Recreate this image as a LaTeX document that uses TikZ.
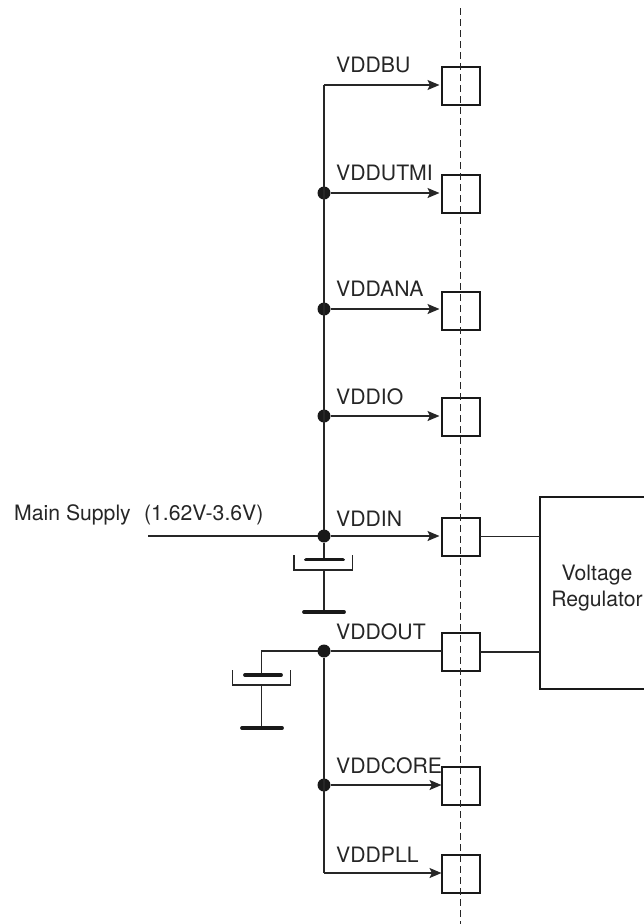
\documentclass[tikz,border=0pt]{standalone}
\usepackage{fontspec}
\setmainfont{TeX Gyre Heros}
\usetikzlibrary{positioning}
\usetikzlibrary{arrows.meta}
\tikzset{
  pin/.style={draw=black!90, line width=2pt, minimum size=38pt, inner sep=0pt, outer sep=0pt},
  dot/.style={fill=black!90, circle, minimum size=13pt, inner sep=0pt, outer sep=0pt},
  lab/.style={anchor=base west, inner sep=0pt, font=\fontsize{21.2}{26}\selectfont, text=black!85},
  wire/.style={draw=black!85, line width=1.5pt},
  feed/.style={wire, -{Stealth[length=12pt, width=10pt, inset=2.5pt]}, shorten >=2pt},
  plate/.style={draw=black!90, line width=3.8pt, line cap=round},
  cup/.style={draw=black!85, line width=1.7pt}
}
\begin{document}
\begin{tikzpicture}[x=1pt, y=-1pt]
    \useasboundingbox (0,0) rectangle (644,924);
    \node[pin](BU) at (460.5,86){};
    \node[pin](UTMI) [below = 69.5pt of BU]{};
    \node[pin](ANA) [below = 79.5pt of UTMI]{};
    \node[pin](IO) [below = 68pt of ANA]{};
    \node[pin](IN) [below = 81.5pt of IO]{};
    \node[pin](OUT) [below = 77.5pt of IN]{};
    \node[pin](CORE) [below = 96pt of OUT]{};
    \node[pin](PLL) [below = 50pt of CORE]{};
    \node[draw=black!90, line width=2pt, minimum width=105pt, minimum height=192pt, outer sep=0pt] (VR) at (592.5,593){};
    \node[font=\fontsize{21.2}{26}\selectfont, text=black!85, align=center] (VRtext) at (597,588) {Voltage\\Regulator};

    \coordinate (top) at (324,85);
    \coordinate (bot) at (324,873);
    \coordinate (dashtop) at (460.5,8);
    \coordinate (dashbot) at (460.5,924);
    \coordinate (main) at (148,536);
    \node[dot](dUTMI) at (324,193){};
    \node[dot](dANA) at (324,309){};
    \node[dot](dIO) at (324,416){};
    \node[dot](dIN) at (324,536){};
    \node[dot](dOUT) at (324,651){};
    \node[dot](dCORE) at (324,785){};

    \node[lab](tBU) at (336,72){VDDBU};
    \node[lab](tUTMI) at (336,180){VDDUTMI};
    \node[lab](tANA) at (336,296){VDDANA};
    \node[lab](tIO) at (336,404){VDDIO};
    \node[lab](tIN) at (336,526.5){VDDIN};
    \node[lab](tOUT) at (336,639){VDDOUT};
    \node[lab](tCORE) at (336,773){VDDCORE};
    \node[lab](tPLL) at (336,862){VDDPLL};
    \node[lab](tmain) at (14,520.5){Main Supply\hspace{0.35em} (1.62V-3.6V)};

    \draw[black!85, line width=1.2pt, dash pattern=on 6.5pt off 4.5pt] (dashtop) -- (dashbot);

    \draw[wire] (top) -- (dIN);
    \draw[wire] (dOUT) -- (bot);
    \draw[feed] (top) -- (BU.west |- top);
    \draw[feed] (dUTMI) -- (UTMI.west |- dUTMI);
    \draw[feed] (dANA) -- (ANA.west |- dANA);
    \draw[feed] (dIO) -- (IO.west |- dIO);
    \draw[feed] (dIN) -- (IN.west |- dIN);
    \draw[feed, shorten >=0pt] (dCORE) -- (CORE.west |- dCORE);
    \draw[feed, shorten >=0pt] (bot) -- (PLL.west |- bot);
    \draw[wire] (main) -- (dIN);
    \draw[wire] (dOUT) -- (OUT.west |- dOUT);
    \draw[wire] (IN.east) -- (IN.east -| VR.west);
    \draw[wire] (OUT.east) -- (OUT.east -| VR.west);

    % first capacitor
    \coordinate (plateA) at (324,559.5);
    \coordinate (gndA) at (324,612);
    \draw[wire, line width=1.9pt] (dIN) -- (plateA);
    \draw[plate] (306,559.5) -- (343,559.5);
    \draw[cup] (294,555) -- (294,570) -- (352.5,570) -- (352.5,555);
    \draw[wire, line width=1.9pt] (plateA) ++(0,10) -- (gndA);
    \draw[plate] (304,612) -- (344,612);

    % second capacitor
    \coordinate (plateB) at (261.5,675);
    \coordinate (gndB) at (261.5,728);
    \draw[wire] (dOUT) -- (261.5,651) -- (plateB);
    \draw[plate] (245,675) -- (281,675);
    \draw[cup] (232.5,670) -- (232.5,685) -- (290.5,685) -- (290.5,670);
    \draw[wire, line width=1.9pt] (plateB) ++(0,10) -- (gndB);
    \draw[plate] (242,728) -- (282,728);
\end{tikzpicture}
\end{document}
